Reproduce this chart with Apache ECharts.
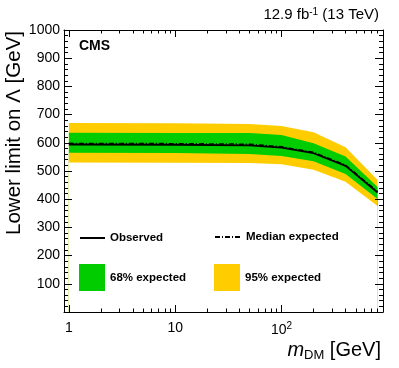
<!DOCTYPE html>
<html>
<head>
<meta charset="utf-8">
<script src="https://cdn.jsdelivr.net/npm/echarts@6/dist/echarts.min.js"></script>
<style>
  html, body { margin: 0; padding: 0; background: #fff; }
  #chart { width: 399px; height: 368px; }
</style>
</head>
<body>
<div id="chart"></div>
<script>
// 数据：DM 质量点与各条曲线
const massPts   = [1, 10, 50, 100, 200, 400, 800]
const observed  = [594, 593, 591, 583, 563, 518, 424]
const expMedian = [598, 597, 595, 586, 566, 521, 427]
const exp68Lo   = [565, 564, 560, 553, 535, 489, 401]
const exp68Hi   = [636, 635, 635, 628, 598, 551, 443]
const exp95Lo   = [530, 529, 528, 524, 504, 462, 376]
const exp95Hi   = [670, 669, 667, 660, 637, 584, 468]

const xMajor = [1, 10, 100]
const xMinor = [2, 3, 4, 5, 6, 7, 8, 9, 20, 30, 40, 50, 60, 70, 80, 90, 200, 300, 400, 500, 600, 700, 800, 900]

const FONT = 'Liberation Sans, Arial, Helvetica, sans-serif'
const GREEN = '#00cc00'
const YELLOW = '#ffcc00'

const pairs = arr => arr.map((v, i) => [massPts[i], v])

const myChart = echarts.init(document.getElementById('chart'))

function xAxisCfg(pos, values, len, withLine, withLabel) {
  return {
    type: 'log',
    position: pos,
    z: 10,
    min: 0.9,
    max: 900,
    axisLine: { show: withLine, lineStyle: { color: '#000', width: 1 } },
    axisTick: { show: true, inside: true, length: len, customValues: values, lineStyle: { color: '#000' } },
    axisLabel: withLabel ? {
      show: true,
      customValues: xMajor,
      margin: 9,
      color: '#000',
      fontFamily: FONT,
      fontSize: 14,
      formatter: v => (Math.abs(v - 100) < 1e-6 ? '{a|10}{b|2}' : String(Math.round(v))),
      rich: {
        a: { fontFamily: FONT, fontSize: 14, color: '#000', lineHeight: 18 },
        b: { fontFamily: FONT, fontSize: 10, color: '#000', lineHeight: 10, verticalAlign: 'top' }
      }
    } : { show: false },
    splitLine: { show: false }
  }
}

function yAxisCfg(pos, withLabel) {
  return {
    type: 'value',
    position: pos,
    z: 10,
    min: 0,
    max: 1000,
    interval: 100,
    axisLine: { show: true, lineStyle: { color: '#000', width: 1 } },
    axisTick: { show: true, inside: true, length: 8, lineStyle: { color: '#000' } },
    minorTick: { show: true, splitNumber: 5, length: 4, lineStyle: { color: '#000' } },
    axisLabel: withLabel ? {
      show: true,
      margin: 4,
      color: '#000',
      fontFamily: FONT,
      fontSize: 14,
      formatter: v => (v === 0 ? '' : v)
    } : { show: false },
    splitLine: { show: false }
  }
}

const legendText = { fontFamily: FONT, fontSize: 11.5, fontWeight: 'bold', color: '#000' }
const hideSymbol = { color: 'rgba(0,0,0,0)', borderWidth: 0, opacity: 0 }

const option = {
  animation: false,
  backgroundColor: '#fff',
  grid: { left: 64, right: 16, top: 30, bottom: 56 },
  xAxis: [
    xAxisCfg('bottom', xMajor, 7, true, true),
    xAxisCfg('bottom', xMinor, 3.5, false, false),
    xAxisCfg('top', xMajor, 7, true, false),
    xAxisCfg('top', xMinor, 3.5, false, false)
  ],
  yAxis: [
    yAxisCfg('left', true),
    yAxisCfg('right', false)
  ],
  legend: [
    {
      left: 79, top: 232, padding: 0, itemWidth: 25, itemHeight: 14, selectedMode: false,
      textStyle: legendText,
      data: [{ name: 'Observed', itemStyle: hideSymbol }]
    },
    {
      left: 214, top: 231, padding: 0, itemWidth: 26, itemHeight: 14, selectedMode: false,
      textStyle: legendText,
      data: [{ name: 'Median expected', itemStyle: hideSymbol }]
    },
    {
      left: 79, top: 264, padding: 0, itemWidth: 26, itemHeight: 27, selectedMode: false,
      textStyle: legendText,
      data: [{ name: '68% expected', icon: 'rect', itemStyle: { color: GREEN } }]
    },
    {
      left: 214, top: 264, padding: 0, itemWidth: 26, itemHeight: 27, selectedMode: false,
      textStyle: legendText,
      data: [{ name: '95% expected', icon: 'rect', itemStyle: { color: YELLOW } }]
    }
  ],
  graphic: [
    {
      type: 'text', x: 379, y: 15,
      style: {
        text: '12.9 fb{s|-1} (13 TeV)', align: 'right', verticalAlign: 'middle',
        fill: '#000', font: '15px ' + FONT,
        rich: {
          s: { fontFamily: FONT, fontSize: 10, lineHeight: 10, verticalAlign: 'top', fill: '#000' }
        }
      }
    },
    {
      type: 'text', x: 79, y: 46,
      style: { text: 'CMS', align: 'left', verticalAlign: 'middle', fill: '#000', font: 'bold 14px ' + FONT }
    },
    {
      type: 'text', x: 381, y: 350,
      style: {
        text: '{m|m}{d|DM}{g| [GeV]}', align: 'right', verticalAlign: 'middle',
        rich: {
          m: { fontFamily: FONT, fontSize: 20, fontStyle: 'italic', lineHeight: 24, fill: '#000' },
          d: { fontFamily: FONT, fontSize: 13, lineHeight: 12, verticalAlign: 'bottom', fill: '#000' },
          g: { fontFamily: FONT, fontSize: 20, lineHeight: 24, fill: '#000' }
        }
      }
    },
    {
      type: 'text', x: 14, y: 31, rotation: Math.PI / 2,
      style: { text: 'Lower limit on Λ [GeV]', align: 'right', verticalAlign: 'middle', fill: '#000', font: '20.5px ' + FONT }
    }
  ],
  series: [
    {
      name: '95% expected', type: 'line', symbol: 'none', silent: true,
      itemStyle: { color: YELLOW },
      lineStyle: { width: 0, opacity: 0 },
      areaStyle: { color: YELLOW, opacity: 1, origin: 'start' },
      data: pairs(exp95Hi)
    },
    {
      name: '68% expected', type: 'line', symbol: 'none', silent: true,
      itemStyle: { color: GREEN },
      lineStyle: { width: 0, opacity: 0 },
      areaStyle: { color: GREEN, opacity: 1, origin: 'start' },
      data: pairs(exp68Hi)
    },
    {
      name: '95% lower part', type: 'line', symbol: 'none', silent: true,
      lineStyle: { width: 0, opacity: 0 },
      areaStyle: { color: YELLOW, opacity: 1, origin: 'start' },
      data: pairs(exp68Lo)
    },
    {
      name: 'below band', type: 'line', symbol: 'none', silent: true,
      lineStyle: { width: 0, opacity: 0 },
      areaStyle: { color: '#fff', opacity: 1, origin: 'start' },
      data: pairs(exp95Lo)
    },
    {
      name: 'Median expected', type: 'line', symbol: 'none',
      itemStyle: { color: '#000' },
      lineStyle: { color: '#000', width: 1.5, type: [5, 2, 1, 2] },
      data: pairs(expMedian)
    },
    {
      name: 'Observed', type: 'line', symbol: 'none',
      itemStyle: { color: '#000' },
      lineStyle: { color: '#000', width: 1.8 },
      data: pairs(observed)
    }
  ]
}

myChart.setOption(option)
</script>
</body>
</html>
